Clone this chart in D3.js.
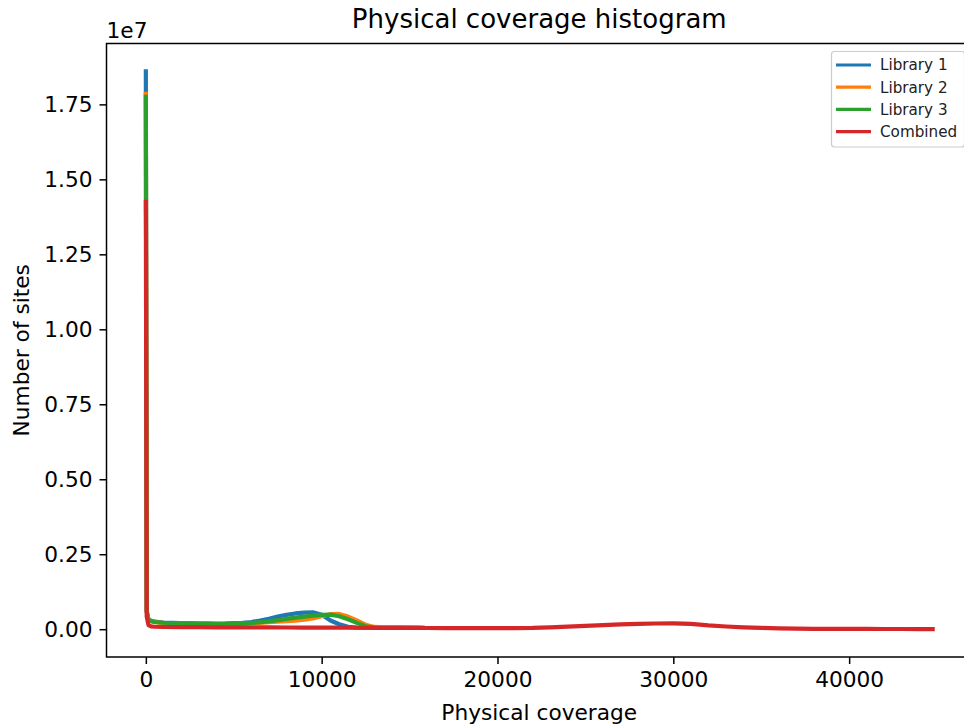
<!DOCTYPE html>
<html>
<head>
<meta charset="utf-8">
<script src="https://cdn.jsdelivr.net/npm/d3@7"></script>
<style>
  html, body { margin: 0; padding: 0; background: #fff; }
  svg { display: block; overflow: hidden; }
  text { font-family: "DejaVu Sans", sans-serif; fill: #000; }
</style>
</head>
<body>
<svg id="chart" width="964" height="726"></svg>
<script>
// Coverage values (x) for the three libraries
const libCoverage = [0, 50, 150, 300, 500, 1000, 1500, 2000, 2500, 3000, 3500, 4000, 4500,
  5000, 5500, 6000, 6500, 7000, 7500, 8000, 8500, 9000, 9500, 10000, 10500, 11000, 11500,
  12000, 12500, 13000, 13500, 14000, 14500, 15000, 15500, 15750];

// Number of sites per coverage, in thousands
const library1 = [18600, 620, 320, 280, 250, 220, 208, 200, 195, 190, 188, 182, 186,
  200, 215, 240, 290, 350, 420, 480, 525, 552, 565, 480, 290, 165, 80,
  50, 48, 47, 45, 44, 43, 42, 41, 40];
const library2 = [17850, 590, 305, 272, 238, 212, 200, 193, 188, 183, 180, 176, 175,
  177, 185, 198, 214, 232, 250, 268, 288, 322, 362, 430, 500, 508, 420,
  290, 150, 75, 62, 60, 58, 57, 55, 52];
const library3 = [17750, 580, 300, 270, 240, 215, 205, 198, 193, 188, 185, 180, 182,
  186, 195, 210, 232, 262, 300, 345, 385, 420, 455, 480, 487, 430, 330,
  210, 100, 52, 47, 45, 43, 42, 41, 40];

// Coverage values (x) for the combined library
const combinedCoverage = [0, 50, 150, 300, 500, 1000, 2000, 3000, 4000, 5000, 6000, 7000,
  8000, 9000, 10000, 11000, 12000, 13000, 14000, 15000, 16000, 17000, 18000, 19000, 20000,
  21000, 22000, 23000, 24000, 25000, 26000, 27000, 28000, 29000, 30000, 31000, 32000, 33000,
  34000, 35000, 36000, 37000, 38000, 39000, 40000, 41000, 42000, 43000, 44000, 44750];
const combined = [14250, 420, 135, 92, 82, 74, 70, 67, 64, 62, 60, 58,
  56, 55, 53, 51, 49, 47, 44, 42, 40, 38, 36, 35, 34,
  36, 42, 62, 88, 112, 138, 162, 178, 190, 194, 176, 126, 90,
  62, 43, 28, 17, 12, 10, 9, 8, 7, 6, 5, 3];

const seriesNames = ["Library 1", "Library 2", "Library 3", "Combined"];
const seriesColors = ["#1f77b4", "#ff7f0e", "#2ca02c", "#d62728"];

const xTicks = [0, 10000, 20000, 30000, 40000];
const yTicks = [0, 0.25e7, 0.5e7, 0.75e7, 1.0e7, 1.25e7, 1.5e7, 1.75e7];

const chartTitle = "Physical coverage histogram";
const xLabel = "Physical coverage";
const yLabel = "Number of sites";
const offsetLabel = "1e7";

// Assemble series as {coverage, sites}
const toPoints = (xs, vs) => xs.map((c, i) => ({ x: c, y: vs[i] * 1000 }));
const series = [
  toPoints(libCoverage, library1),
  toPoints(libCoverage, library2),
  toPoints(libCoverage, library3),
  toPoints(combinedCoverage, combined)
];

// Axes box (right edge runs past the page edge)
const box = { left: 106.5, top: 43.5, width: 865.5, height: 613.5 };
const svg = d3.select("#chart");

// Autoscale with 5% margins on each side
const allPts = series.flat();
const [xMin, xMax] = d3.extent(allPts, d => d.x);
const [yMin, yMax] = d3.extent(allPts, d => d.y);
const xPad = (xMax - xMin) * 0.05, yPad = (yMax - yMin) * 0.05;

const xScale = d3.scaleLinear().domain([xMin - xPad, xMax + xPad])
  .range([box.left, box.left + box.width]);
const yScale = d3.scaleLinear().domain([yMin - yPad, yMax + yPad])
  .range([box.top + box.height, box.top]);

const fontSize = 21.7;

// Lines
const line = d3.line().x(d => xScale(d.x)).y(d => yScale(d.y));
svg.append("defs").append("clipPath").attr("id", "plotClip")
  .append("rect").attr("x", box.left).attr("y", box.top)
  .attr("width", box.width).attr("height", box.height);

const plot = svg.append("g").attr("clip-path", "url(#plotClip)");
series.forEach((pts, i) => {
  plot.append("path")
    .datum(pts)
    .attr("d", line)
    .attr("fill", "none")
    .attr("stroke", seriesColors[i])
    .attr("stroke-width", 4.2)
    .attr("stroke-linejoin", "round")
    .attr("stroke-linecap", "square");
});

// Axes
const xAxis = d3.axisBottom(xScale).tickValues(xTicks).tickFormat(d3.format("d"))
  .tickSize(7).tickPadding(7);
const yAxis = d3.axisLeft(yScale).tickValues(yTicks).tickFormat(v => (v / 1e7).toFixed(2))
  .tickSize(7).tickPadding(7);

const gx = svg.append("g").attr("transform", `translate(0,${box.top + box.height})`).call(xAxis);
const gy = svg.append("g").attr("transform", `translate(${box.left},0)`).call(yAxis);
[gx, gy].forEach(g => {
  g.select(".domain").remove();
  g.selectAll(".tick line").attr("stroke", "#000").attr("stroke-width", 1.5);
  g.selectAll(".tick text")
    .style("font-family", "'DejaVu Sans', sans-serif")
    .style("font-size", fontSize + "px")
    .attr("fill", "#000");
});
gx.selectAll(".tick text").attr("dy", "0.76em");

// Frame
svg.append("rect")
  .attr("x", box.left).attr("y", box.top).attr("width", box.width).attr("height", box.height)
  .attr("fill", "none").attr("stroke", "#000").attr("stroke-width", 1.5);

// Titles and labels
svg.append("text").attr("x", box.left + box.width / 2).attr("y", 28)
  .attr("text-anchor", "middle").style("font-size", "26px").text(chartTitle);
svg.append("text").attr("x", box.left + box.width / 2).attr("y", 720)
  .attr("text-anchor", "middle").style("font-size", fontSize + "px").text(xLabel);
svg.append("text")
  .attr("transform", `translate(28.5,${box.top + box.height / 2}) rotate(-90)`)
  .attr("text-anchor", "middle").style("font-size", fontSize + "px").text(yLabel);
svg.append("text").attr("x", box.left).attr("y", 37.5)
  .style("font-size", fontSize + "px").text(offsetLabel);

// Legend, upper right
const legend = svg.append("g");
legend.append("rect")
  .attr("x", 831.5).attr("y", 51.5).attr("width", 133).attr("height", 95.5)
  .attr("rx", 3).attr("ry", 3)
  .attr("fill", "#fff").attr("fill-opacity", 0.8)
  .attr("stroke", "#cccccc").attr("stroke-width", 1.2);
seriesNames.forEach((name, i) => {
  const yy = 65 + i * 22.2;
  legend.append("line")
    .attr("x1", 836).attr("x2", 871).attr("y1", yy).attr("y2", yy)
    .attr("stroke", seriesColors[i]).attr("stroke-width", 3.2);
  legend.append("text")
    .attr("x", 880).attr("y", yy).attr("dy", "0.36em")
    .style("font-size", "15.2px").style("fill", "#222").text(name);
});
</script>
</body>
</html>
